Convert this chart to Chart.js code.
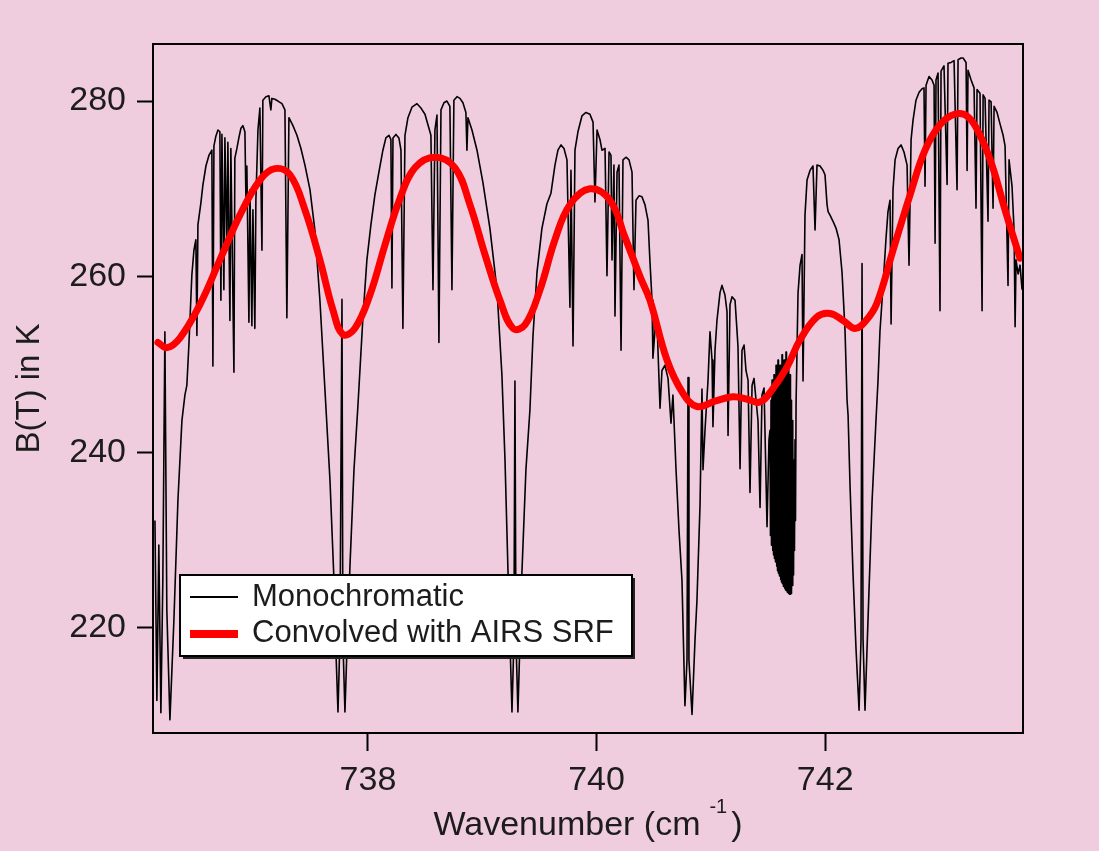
<!DOCTYPE html>
<html>
<head>
<meta charset="utf-8">
<script src="https://cdn.jsdelivr.net/npm/chart.js@4.4.1/dist/chart.umd.min.js"></script>
<style>
  html, body { margin: 0; padding: 0; background: #efcddf; }
  canvas { display: block; }
</style>
</head>
<body>
<canvas id="c" width="1099" height="851"></canvas>
<script>
// ---- Data ----
const seriesLabels = ['Monochromatic', 'Convolved with AIRS SRF'];

const wavenumberMono = [
736.137,736.154,736.171,736.189,736.206,736.224,736.241,736.268,736.303,736.338,
736.373,736.399,736.416,736.434,736.460,736.478,736.495,736.504,736.513,736.539,
736.556,736.583,736.609,736.635,736.644,736.653,736.670,736.688,736.705,736.714,
736.723,736.740,736.749,736.766,736.775,736.793,736.801,736.828,736.836,736.854,
736.871,736.889,736.906,736.924,736.933,736.941,736.959,736.968,736.985,736.994,
737.011,737.020,737.038,737.055,737.073,737.081,737.108,737.134,737.151,737.160,
737.186,737.213,737.248,737.274,737.291,737.309,737.344,737.379,737.414,737.449,
737.493,737.536,737.580,737.624,737.668,737.703,737.720,737.738,737.755,737.773,
737.781,737.799,737.816,737.843,737.878,737.913,737.956,737.991,738.026,738.061,
738.096,738.131,738.157,738.184,738.201,738.210,738.219,738.245,738.271,738.289,
738.306,738.324,738.350,738.385,738.429,738.464,738.499,738.525,738.551,738.569,
738.586,738.604,738.621,738.639,738.665,738.691,738.717,738.735,738.752,738.779,
738.805,738.831,738.857,738.866,738.875,738.910,738.954,739.006,739.067,739.129,
739.172,739.199,739.225,739.260,739.277,739.286,739.295,739.312,739.347,739.382,
739.417,739.444,739.479,739.522,739.566,739.601,739.636,739.662,739.689,739.715,
739.741,739.767,739.776,739.794,739.811,739.837,739.872,739.907,739.942,739.969,
739.986,740.004,740.030,740.047,740.074,740.091,740.109,740.126,740.135,740.152,
740.161,740.179,740.196,740.214,740.231,740.257,740.284,740.310,740.327,740.345,
740.371,740.397,740.423,740.450,740.467,740.485,740.493,740.511,740.528,740.555,
740.572,740.598,740.625,740.651,740.668,740.695,740.721,740.747,740.773,740.791,
740.800,740.808,740.835,740.861,740.878,740.905,740.922,740.931,740.948,740.975,
740.992,741.010,741.018,741.036,741.053,741.080,741.097,741.123,741.141,741.150,
741.167,741.185,741.211,741.228,741.237,741.255,741.272,741.290,741.307,741.325,
741.342,741.360,741.377,741.395,741.412,741.430,741.447,741.465,741.491,741.508,
741.517,741.521,741.526,741.530,741.535,741.539,741.543,741.548,741.552,741.556,
741.561,741.565,741.570,741.574,741.578,741.583,741.587,741.591,741.596,741.600,
741.605,741.609,741.613,741.618,741.622,741.626,741.631,741.635,741.640,741.644,
741.648,741.653,741.657,741.661,741.666,741.670,741.675,741.679,741.683,741.688,
741.692,741.696,741.701,741.705,741.710,741.714,741.718,741.723,741.727,741.731,
741.736,741.740,741.745,
741.762,741.780,741.797,741.806,
741.823,741.841,741.867,741.893,741.911,741.928,741.955,741.981,741.998,742.016,
742.025,742.042,742.068,742.095,742.121,742.147,742.173,742.191,742.200,742.217,
742.243,742.270,742.296,742.313,742.322,742.331,742.348,742.375,742.410,742.444,
742.462,742.479,742.506,742.532,742.549,742.567,742.576,742.593,742.611,742.637,
742.663,742.689,742.716,742.733,742.751,742.768,742.794,742.821,742.847,742.864,
742.873,742.882,742.908,742.934,742.952,742.961,742.969,742.987,743.004,743.013,
743.039,743.066,743.074,743.101,743.127,743.153,743.162,743.188,743.206,743.232,
743.241,743.249,743.276,743.302,743.319,743.328,743.354,743.372,743.381,743.398,
743.424,743.433,743.451,743.468,743.477,743.503,743.529,743.556,743.573,743.599,
743.608,743.634,743.652,743.661,743.669,743.687,743.704,743.722
];

const btMono = [
232.2,211.7,229.4,210.3,225.4,253.7,222.0,209.5,220.9,234.5,
243.6,246.5,247.6,252.2,260.2,263.0,264.2,253.3,265.9,268.4,
270.4,272.6,273.8,274.4,249.8,274.9,276.0,276.7,276.5,257.3,
276.2,258.5,275.8,263.0,275.3,255.0,274.6,249.1,273.5,274.6,
275.8,276.9,277.2,276.5,268.7,272.6,254.8,269.9,254.4,267.6,
254.1,268.7,276.7,279.2,263.0,280.1,280.5,280.6,279.0,280.3,
280.2,280.0,279.7,279.0,255.3,278.1,277.2,276.1,274.6,272.7,
269.9,265.3,257.3,247.1,236.8,225.4,217.4,210.4,218.6,257.4,
218.6,210.4,217.4,227.1,238.0,245.4,255.3,261.9,265.9,269.3,
271.9,274.4,275.8,276.1,275.6,258.7,275.8,276.2,275.8,274.4,
254.1,276.1,278.1,279.3,279.7,279.2,278.5,277.3,276.1,258.5,
276.7,278.4,252.5,279.0,279.8,280.0,279.4,258.5,280.1,280.5,
280.3,279.8,278.7,274.4,278.1,276.7,274.4,270.7,265.5,258.5,
248.8,239.1,226.5,210.4,218.6,248.1,218.6,210.4,226.3,238.0,
244.8,253.3,260.5,265.5,268.3,269.5,272.7,274.4,275.0,274.6,
273.3,256.5,272.1,252.1,274.4,276.5,278.3,278.7,278.5,277.6,
268.5,276.7,275.6,274.4,274.6,260.1,274.2,273.8,261.9,272.7,
255.5,271.9,272.7,251.6,273.3,273.6,273.3,271.9,258.5,268.7,
269.2,269.1,268.2,266.4,261.7,257.3,250.7,253.9,255.0,245.0,
249.3,249.9,248.4,243.3,246.5,238.0,231.1,225.4,211.1,216.3,
248.5,216.3,210.1,218.6,223.1,234.0,247.2,238.0,242.4,248.2,
253.7,250.5,242.9,251.6,255.0,258.2,259.0,257.9,256.0,241.9,
256.8,257.7,257.3,253.9,252.0,238.1,251.6,252.2,249.3,248.2,
235.4,247.6,248.4,245.9,243.6,233.7,246.5,247.3,231.5,241.4,
242.5,230.5,245.9,229.4,248.2,228.8,244.8,228.3,248.8,227.9,
246.5,227.5,249.9,227.0,248.2,226.5,250.5,226.2,247.6,225.9,
249.9,225.5,247.1,225.2,251.1,225.0,248.2,224.7,250.5,224.5,
247.6,224.3,251.4,224.2,248.8,224.0,250.3,223.9,247.1,223.8,
248.8,223.8,245.9,223.9,243.6,224.8,241.4,226.0,239.1,228.8,
241.4,232.2,245.5,
258.1,261.3,262.5,248.1,
267.0,271.0,272.1,272.6,265.3,272.7,272.6,272.1,271.6,268.2,
267.4,267.0,266.3,265.5,264.2,260.5,253.9,245.9,244.2,236.2,
226.2,217.4,210.6,218.6,261.5,218.6,210.6,221.2,234.5,243.6,
248.2,253.8,259.0,264.4,267.4,268.7,254.6,269.9,273.3,274.6,
275.0,274.2,272.7,261.3,275.6,277.8,280.1,281.0,281.4,281.5,
270.3,281.8,282.8,282.4,281.8,263.8,282.4,283.2,256.1,283.4,
284.0,270.5,284.3,284.4,284.6,269.9,284.7,284.9,284.9,284.4,
272.1,283.5,282.4,281.5,267.8,281.3,280.9,256.1,280.7,280.3,
266.3,280.1,279.9,267.8,279.4,278.7,277.4,276.1,274.9,259.0,
273.3,270.3,265.3,254.3,261.9,260.3,261.3,258.5
];

const wavenumberConv = [
736.163,736.241,736.355,736.530,736.705,736.880,737.055,737.186,737.318,737.449,
737.580,737.694,737.781,737.886,738.017,738.149,738.280,738.411,738.586,738.761,
738.892,739.024,739.155,739.269,739.374,739.505,739.636,739.767,739.942,740.117,
740.248,740.380,740.467,740.616,740.756,740.878,741.036,741.193,741.325,741.430,
741.535,741.666,741.780,741.928,742.042,742.156,742.261,742.357,742.453,742.593,
742.742,742.873,743.004,743.136,743.249,743.354,743.459,743.573,743.704
];

const btConv = [
252.5,251.9,253.0,256.8,261.9,267.0,271.0,272.3,271.6,267.6,
261.9,256.2,253.4,254.1,257.9,263.6,268.9,272.4,273.6,272.4,
268.2,262.5,257.3,254.1,254.5,258.5,264.2,268.2,270.0,268.7,
264.5,260.0,257.3,250.5,246.7,245.2,245.8,246.3,246.0,245.7,
247.1,249.7,252.8,255.4,255.8,255.0,254.1,255.0,257.0,263.0,
269.3,274.4,277.3,278.5,278.2,276.1,272.7,267.6,262.1
];

const xTickValues = [738, 740, 742];
const yTickValues = [220, 240, 260, 280];
const xRange = [736.12, 743.73];
const yRange = [208.0, 286.5];

// ---- Styling ----
const BG = '#efcddf';
const TEXT = '#1c1c1c';
const FONT = "'Liberation Sans', Arial, Helvetica, sans-serif";

const monoPts = wavenumberMono.map((x, i) => ({ x, y: btMono[i] }));
const convPts = wavenumberConv.map((x, i) => ({ x, y: btConv[i] }));

const decorPlugin = {
  id: 'decor',
  beforeDraw(chart) {
    const ctx = chart.ctx;
    ctx.save();
    ctx.fillStyle = BG;
    ctx.fillRect(0, 0, chart.width, chart.height);
    ctx.restore();
  },
  afterDraw(chart) {
    const ctx = chart.ctx;
    const a = chart.chartArea;
    ctx.save();
    // frame
    ctx.strokeStyle = '#000';
    ctx.lineWidth = 2;
    ctx.strokeRect(a.left, a.top, a.right - a.left, a.bottom - a.top);

    // legend box with shadow
    const lx = 180, ly = 575, lw = 452, lh = 81;
    ctx.fillStyle = '#222';
    ctx.fillRect(lx + 3, ly + 3, lw, lh);
    ctx.fillStyle = '#ffffff';
    ctx.fillRect(lx, ly, lw, lh);
    ctx.strokeStyle = '#000';
    ctx.lineWidth = 2;
    ctx.strokeRect(lx, ly, lw, lh);

    const ds = chart.data.datasets;
    const rows = [597, 634];
    const baselines = [606, 642];
    ds.forEach((d, i) => {
      ctx.strokeStyle = d.borderColor;
      ctx.lineWidth = i === 0 ? 1.8 : 8;
      ctx.lineCap = 'butt';
      ctx.beginPath();
      ctx.moveTo(190, rows[i]);
      ctx.lineTo(238, rows[i]);
      ctx.stroke();
      ctx.fillStyle = TEXT;
      ctx.font = '31px ' + FONT;
      ctx.textAlign = 'left';
      ctx.textBaseline = 'alphabetic';
      ctx.fillText(d.label, 252, baselines[i]);
    });

    // x-axis title with superscript
    const main1 = 'Wavenumber (cm', sup = '-1', main2 = ')';
    ctx.font = '34px ' + FONT;
    const w1 = ctx.measureText(main1).width;
    const w3 = ctx.measureText(main2).width;
    ctx.font = '20px ' + FONT;
    const w2 = ctx.measureText(sup).width;
    const gap1 = 9, gap2 = 4;
    const total = w1 + gap1 + w2 + gap2 + w3;
    let x = (a.left + a.right) / 2 - total / 2;
    const base = 835;
    ctx.fillStyle = TEXT;
    ctx.textAlign = 'left';
    ctx.textBaseline = 'alphabetic';
    ctx.font = '34px ' + FONT;
    ctx.fillText(main1, x, base);
    x += w1 + gap1;
    ctx.font = '20px ' + FONT;
    ctx.fillText(sup, x, base - 22);
    x += w2 + gap2;
    ctx.font = '34px ' + FONT;
    ctx.fillText(main2, x, base);
    ctx.restore();
  }
};

new Chart(document.getElementById('c'), {
  type: 'line',
  data: {
    datasets: [
      {
        label: seriesLabels[0],
        data: monoPts,
        borderColor: '#000000',
        borderWidth: 1.6,
        borderJoinStyle: 'round',
        pointRadius: 0,
        tension: 0,
        fill: false,
        order: 2
      },
      {
        label: seriesLabels[1],
        data: convPts,
        borderColor: '#ff0000',
        borderWidth: 7,
        borderJoinStyle: 'round',
        borderCapStyle: 'round',
        pointRadius: 0,
        tension: 0.4,
        fill: false,
        order: 1
      }
    ]
  },
  options: {
    responsive: false,
    animation: false,
    devicePixelRatio: 1,
    layout: { padding: { top: 44, right: 76, left: 0, bottom: 0 } },
    plugins: {
      legend: { display: false },
      title: { display: false },
      tooltip: { enabled: false }
    },
    scales: {
      x: {
        type: 'linear',
        position: 'bottom',
        min: xRange[0],
        max: xRange[1],
        afterFit(scale) { scale.height = 118; },
        afterBuildTicks(scale) { scale.ticks = xTickValues.map(v => ({ value: v })); },
        grid: {
          drawOnChartArea: false,
          drawTicks: true,
          tickLength: 18,
          tickColor: '#000',
          tickWidth: 2,
          color: '#000'
        },
        border: { display: false },
        ticks: {
          color: TEXT,
          font: { family: FONT, size: 34 },
          padding: 9,
          maxRotation: 0,
          autoSkip: false,
          callback: v => String(v)
        },
        title: { display: false }
      },
      y: {
        type: 'linear',
        position: 'left',
        min: yRange[0],
        max: yRange[1],
        afterFit(scale) { scale.width = 153; },
        afterBuildTicks(scale) { scale.ticks = yTickValues.map(v => ({ value: v })); },
        grid: {
          drawOnChartArea: false,
          drawTicks: true,
          tickLength: 16,
          tickColor: '#000',
          tickWidth: 2,
          color: '#000'
        },
        border: { display: false },
        ticks: {
          color: TEXT,
          font: { family: FONT, size: 34 },
          padding: 11,
          autoSkip: false,
          callback: v => String(v)
        },
        title: {
          display: true,
          text: 'B(T) in K',
          color: TEXT,
          font: { family: FONT, size: 33 },
          padding: { top: 10, bottom: 0 }
        }
      }
    }
  },
  plugins: [decorPlugin]
});
</script>
</body>
</html>
